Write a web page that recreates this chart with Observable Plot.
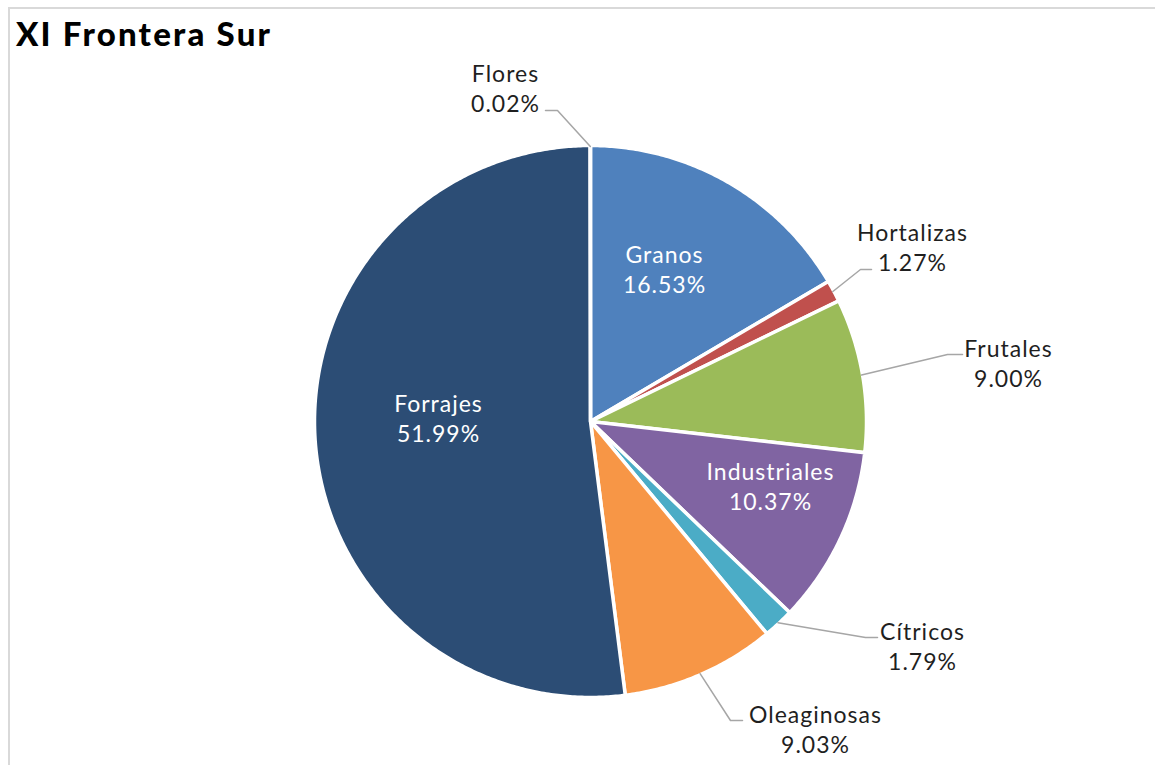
<!DOCTYPE html>
<html>
<head>
<meta charset="utf-8">
<script src="https://cdn.jsdelivr.net/npm/d3@7"></script>
<script src="https://cdn.jsdelivr.net/npm/@observablehq/plot@0.6"></script>
<style>
  body { margin: 0; background: #fff; }
  #wrap { position: relative; width: 1155px; height: 765px; overflow: hidden; background: #fff; }
  #frame { position: absolute; left: 8px; top: 7px; width: 1300px; height: 900px;
           border-top: 2px solid #d9d9d9; border-left: 2px solid #d9d9d9; box-sizing: border-box; }
  #title { position: absolute; left: 16px; top: 13px; font-family: Lato, "Open Sans", sans-serif;
           font-weight: 900; font-size: 33px; letter-spacing: 2.2px; color: #000; margin: 0; line-height: 40px; }
  #chart { position: absolute; left: 0; top: 0; }
  #chart text { letter-spacing: 1px; }
</style>
</head>
<body>
<div id="wrap">
  <div id="frame"></div>
  <div id="chart"></div>
  <h1 id="title">XI Frontera Sur</h1>
</div>
<script>
// ---- data ----
const categories = ["Granos", "Hortalizas", "Frutales", "Industriales", "Cítricos", "Oleaginosas", "Forrajes", "Flores"];
const shares = [16.53, 1.27, 9.00, 10.37, 1.79, 9.03, 51.99, 0.02];
const colors = ["#4F81BD", "#C0504D", "#9BBB59", "#8064A2", "#4BACC6", "#F79646", "#2C4D75", "#772C2A"];

// ---- layout (pixel space) ----
const pie = {cx: 590, cy: 421, r: 276};
const labelLayout = {
  Granos:      {x: 664,  y: 268, inside: true},
  Hortalizas:  {x: 912,  y: 246, elbow: [860, 269], end: [871, 269]},
  Frutales:    {x: 1008, y: 362, elbow: [947, 354], end: [962, 354]},
  Industriales:{x: 770,  y: 485, inside: true},
  "Cítricos":  {x: 922,  y: 645, elbow: [865, 637], end: [877, 637]},
  Oleaginosas: {x: 815,  y: 728, elbow: [730, 720], end: [742, 720]},
  Forrajes:    {x: 438,  y: 417, inside: true},
  Flores:      {x: 505,  y: 87,  elbow: [557, 110], end: [545, 110]}
};

const polar = (a, r) => [pie.cx + r * Math.sin(a), pie.cy - r * Math.cos(a)];
const arcs = d3.pie().sort(null).value(d => d).startAngle(0).endAngle(2 * Math.PI)(shares);

// slice polygons
const slicePts = [];
arcs.forEach((a, i) => {
  const cat = categories[i];
  slicePts.push({cat, x: pie.cx, y: pie.cy});
  const n = Math.max(2, Math.ceil((a.endAngle - a.startAngle) / (Math.PI / 360)));
  for (let k = 0; k <= n; k++) {
    const t = a.startAngle + (a.endAngle - a.startAngle) * k / n;
    const [x, y] = polar(t, pie.r);
    slicePts.push({cat, x, y});
  }
  slicePts.push({cat, x: pie.cx, y: pie.cy});
});

// leader lines
const leaderPts = [];
arcs.forEach((a, i) => {
  const cat = categories[i];
  const L = labelLayout[cat];
  if (L.inside) return;
  const [sx, sy] = polar((a.startAngle + a.endAngle) / 2, pie.r - 1);
  leaderPts.push({cat, x: sx, y: sy});
  leaderPts.push({cat, x: L.elbow[0], y: L.elbow[1]});
  leaderPts.push({cat, x: L.end[0], y: L.end[1]});
});

// labels
const labels = categories.map((cat, i) => ({
  cat,
  x: labelLayout[cat].x,
  y: labelLayout[cat].y,
  text: `${cat}\n${shares[i].toFixed(2)}%`,
  inside: !!labelLayout[cat].inside
}));

const chart = Plot.plot({
  width: 1155,
  height: 765,
  margin: 0,
  style: {background: "transparent"},
  x: {domain: [0, 1155], range: [0, 1155], axis: null},
  y: {domain: [0, 765], range: [0, 765], axis: null},
  color: {domain: categories, range: colors},
  marks: [
    Plot.line(slicePts, {x: "x", y: "y", z: "cat", fill: "cat", stroke: "white", strokeWidth: 3.5,
      strokeLinejoin: "miter", strokeMiterlimit: 4, curve: "linear"}),
    Plot.line(leaderPts, {x: "x", y: "y", z: "cat", stroke: "#a6a6a6", strokeWidth: 1.5, curve: "linear"}),
    Plot.text(labels.filter(d => !d.inside), {x: "x", y: "y", text: "text", fill: "#1f1f1f",
      fontSize: 23, fontFamily: "Lato", lineHeight: 30 / 23, textAnchor: "middle", lineAnchor: "middle"}),
    Plot.text(labels.filter(d => d.inside), {x: "x", y: "y", text: "text", fill: "white",
      fontSize: 23, fontFamily: "Lato", lineHeight: 30 / 23, textAnchor: "middle", lineAnchor: "middle"})
  ]
});
document.getElementById("chart").appendChild(chart);
</script>
</body>
</html>
